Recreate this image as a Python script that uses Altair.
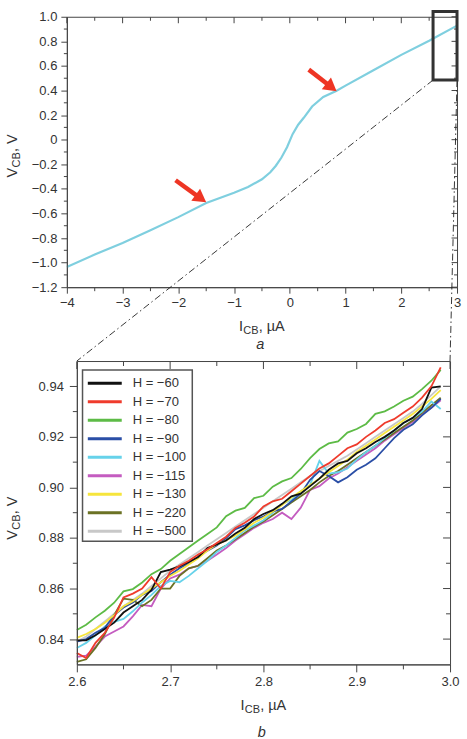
import math

import altair as alt
import pandas as pd

FONT = "Liberation Sans"
INK = "#333333"
AXIS_INK = "#444444"
ARROW_RED = "#ee3524"

# ---------------- panel a: full current sweep ----------------
sweep_i = [-4.0, -3.5, -3.0, -2.5, -2.0, -1.5, -1.0, -0.75, -0.5, -0.35, -0.25, -0.15,
           -0.05, 0.05, 0.15, 0.25, 0.4, 0.6, 0.84, 1.0, 1.5, 2.0, 2.5, 3.0]
sweep_v = [-1.035, -0.935, -0.840, -0.737, -0.630, -0.515, -0.432, -0.385, -0.322, -0.265,
           -0.212, -0.145, -0.062, 0.045, 0.122, 0.178, 0.270, 0.347, 0.398, 0.440,
           0.565, 0.690, 0.805, 0.928]

# magnified window and the two kinks marked by arrows
window_i = [2.57, 3.0]
window_v = [0.485, 1.042]
arrow_tail_i = [-2.05, 0.34]
arrow_tail_v = [-0.33, 0.57]
arrow_tip_i = [-1.50, 0.84]
arrow_tip_v = [-0.51, 0.394]

top_x_major = [-4, -3, -2, -1, 0, 1, 2, 3]
top_x_minor = [-3.5, -2.5, -1.5, -0.5, 0.5, 1.5, 2.5]
top_y_major = [-1.2, -1.0, -0.8, -0.6, -0.4, -0.2, 0.0, 0.2, 0.4, 0.6, 0.8, 1.0]
top_y_minor = [-1.1, -0.9, -0.7, -0.5, -0.3, -0.1, 0.1, 0.3, 0.5, 0.7, 0.9]

# ---------------- panel b: magnified window, field series ----------------
zoom_i = [2.60, 2.61, 2.62, 2.63, 2.64, 2.65, 2.66, 2.67, 2.68, 2.69,
          2.70, 2.71, 2.72, 2.73, 2.74, 2.75, 2.76, 2.77, 2.78, 2.79,
          2.80, 2.81, 2.82, 2.83, 2.84, 2.85, 2.86, 2.87, 2.88, 2.89,
          2.90, 2.91, 2.92, 2.93, 2.94, 2.95, 2.96, 2.97, 2.98, 2.99]

series_names = ["H = \u221260", "H = \u221270", "H = \u221280", "H = \u221290", "H = \u2212100",
                "H = \u2212115", "H = \u2212130", "H = \u2212220", "H = \u2212500"]
series_colors = ["#111111", "#ef3b2c", "#5dbb46", "#2a4ea6", "#66d2ea",
                 "#c45cc0", "#f6e53c", "#6b7224", "#c8c8c8"]

v_h60 = [0.8395, 0.8395, 0.8415, 0.8440, 0.8465, 0.8505, 0.8530, 0.8555, 0.8595, 0.8665,
         0.8675, 0.8688, 0.8705, 0.8725, 0.8760, 0.8775, 0.8790, 0.8818, 0.8840, 0.8875,
         0.8895, 0.8910, 0.8935, 0.8965, 0.8975, 0.9005, 0.9035, 0.9070, 0.9095, 0.9105,
         0.9135, 0.9155, 0.9180, 0.9200, 0.9225, 0.9255, 0.9275, 0.9310, 0.9395, 0.9400]
v_h70 = [0.8345, 0.8325, 0.8385, 0.8425, 0.8485, 0.8565, 0.8580, 0.8600, 0.8645, 0.8600,
         0.8665, 0.8690, 0.8710, 0.8735, 0.8755, 0.8780, 0.8805, 0.8840, 0.8860, 0.8885,
         0.8925, 0.8945, 0.8955, 0.8985, 0.9015, 0.9045, 0.9075, 0.9095, 0.9125, 0.9155,
         0.9170, 0.9200, 0.9225, 0.9255, 0.9270, 0.9295, 0.9320, 0.9355, 0.9400, 0.9475]
v_h80 = [0.8436, 0.8457, 0.8486, 0.8512, 0.8544, 0.8589, 0.8598, 0.8624, 0.8657, 0.8677,
         0.8710, 0.8737, 0.8763, 0.8790, 0.8816, 0.8842, 0.8886, 0.8908, 0.8919, 0.8958,
         0.8967, 0.9003, 0.9024, 0.9037, 0.9073, 0.9116, 0.9152, 0.9174, 0.9182, 0.9217,
         0.9231, 0.9251, 0.9291, 0.9301, 0.9320, 0.9343, 0.9359, 0.9389, 0.9422, 0.9465]
v_h90 = [0.8390, 0.8400, 0.8425, 0.8445, 0.8495, 0.8525, 0.8545, 0.8575, 0.8590, 0.8625,
         0.8655, 0.8680, 0.8700, 0.8725, 0.8750, 0.8770, 0.8800, 0.8835, 0.8850, 0.8870,
         0.8885, 0.8905, 0.8915, 0.8945, 0.8975, 0.9030, 0.9065, 0.9045, 0.9020, 0.9040,
         0.9070, 0.9090, 0.9115, 0.9155, 0.9195, 0.9228, 0.9250, 0.9285, 0.9315, 0.9350]
v_h100 = [0.8365, 0.8385, 0.8415, 0.8450, 0.8468, 0.8480, 0.8510, 0.8545, 0.8575, 0.8610,
          0.8630, 0.8625, 0.8650, 0.8680, 0.8710, 0.8745, 0.8770, 0.8800, 0.8830, 0.8850,
          0.8870, 0.8900, 0.8935, 0.8950, 0.8985, 0.9010, 0.9105, 0.9055, 0.9060, 0.9075,
          0.9110, 0.9140, 0.9165, 0.9195, 0.9225, 0.9255, 0.9275, 0.9300, 0.9340, 0.9310]
v_h115 = [0.8330, 0.8335, 0.8370, 0.8410, 0.8430, 0.8450, 0.8490, 0.8535, 0.8530, 0.8600,
          0.8640, 0.8655, 0.8680, 0.8690, 0.8710, 0.8735, 0.8760, 0.8790, 0.8815, 0.8840,
          0.8860, 0.8875, 0.8900, 0.8875, 0.8920, 0.8990, 0.9005, 0.9035, 0.9055, 0.9080,
          0.9105, 0.9130, 0.9155, 0.9185, 0.9210, 0.9235, 0.9260, 0.9290, 0.9315, 0.9345]
v_h130 = [0.8405, 0.8420, 0.8440, 0.8465, 0.8495, 0.8530, 0.8550, 0.8575, 0.8600, 0.8625,
          0.8650, 0.8670, 0.8695, 0.8720, 0.8750, 0.8775, 0.8790, 0.8810, 0.8835, 0.8860,
          0.8880, 0.8905, 0.8930, 0.8960, 0.8985, 0.9010, 0.9035, 0.9060, 0.9085, 0.9110,
          0.9140, 0.9165, 0.9190, 0.9215, 0.9240, 0.9265, 0.9290, 0.9320, 0.9350, 0.9385]
v_h220 = [0.8310, 0.8320, 0.8365, 0.8420, 0.8495, 0.8560, 0.8555, 0.8530, 0.8555, 0.8600,
          0.8600, 0.8650, 0.8680, 0.8690, 0.8720, 0.8750, 0.8770, 0.8795, 0.8820, 0.8845,
          0.8865, 0.8890, 0.8915, 0.8940, 0.8965, 0.8990, 0.9020, 0.9045, 0.9065, 0.9090,
          0.9115, 0.9140, 0.9165, 0.9190, 0.9215, 0.9240, 0.9265, 0.9295, 0.9325, 0.9355]
v_h500 = [0.8390, 0.8410, 0.8440, 0.8470, 0.8500, 0.8530, 0.8555, 0.8580, 0.8610, 0.8640,
          0.8670, 0.8695, 0.8720, 0.8745, 0.8770, 0.8795, 0.8820, 0.8845, 0.8870, 0.8895,
          0.8920, 0.8945, 0.8970, 0.8995, 0.9020, 0.9045, 0.9065, 0.9085, 0.9105, 0.9125,
          0.9150, 0.9175, 0.9200, 0.9225, 0.9250, 0.9275, 0.9300, 0.9330, 0.9365, 0.9400]
series_values = [v_h60, v_h70, v_h80, v_h90, v_h100, v_h115, v_h130, v_h220, v_h500]
# drawing order, bottom to top
draw_order = [8, 5, 7, 4, 3, 6, 2, 0, 1]

bot_x_major = [2.6, 2.7, 2.8, 2.9, 3.0]
bot_x_minor = [2.65, 2.75, 2.85, 2.95]
bot_y_major = [0.84, 0.86, 0.88, 0.90, 0.92, 0.94]
bot_y_minor = [0.85, 0.87, 0.89, 0.91, 0.93]

# ---------------- layout ----------------
TOP_W, TOP_H = 391, 271
BOT_W, BOT_H = 374, 304
GAP = 74      # vertical distance between the two plot frames
SHIFT = 10    # horizontal indent of panel b relative to panel a

TOP_I = [-4.0, 3.0]
TOP_V = [-1.2, 1.0]
BOT_I = [2.6, 3.0]
BOT_V = [0.83, 0.95]

one = pd.DataFrame({"n": [0]})


def text_piece(text, x, y, size, angle=0, italic=False, align="left"):
    return alt.Chart(one).mark_text(
        text=text, font=FONT, fontSize=size, align=align, baseline="alphabetic",
        color=INK, angle=angle, fontStyle="italic" if italic else "normal",
    ).encode(x=alt.value(x), y=alt.value(y))


def main_axis(orient, values, tick, pad, **kw):
    return alt.Axis(orient=orient, values=values, tickSize=tick, labelPadding=pad,
                    labelFont=FONT, labelFontSize=13, labelColor=INK, tickColor=AXIS_INK,
                    domainColor=AXIS_INK, labelFlush=False, labelOverlap=False,
                    labelBound=False, grid=False, title=None, **kw)


def frame_marks(xs, ys, xaxis, yaxis, w, h, xmin, xmaj, ymin, ymaj, t_major, t_minor):
    """Plot frame, minor ticks on the left/bottom and inward ticks on the top/right."""
    box = alt.Chart(one).mark_rect(fillOpacity=0, stroke=AXIS_INK, strokeWidth=1).encode(
        x=alt.value(0.5), x2=alt.value(w + 0.5), y=alt.value(0.5), y2=alt.value(h + 0.5))
    layers = [box]
    rule = dict(color=AXIS_INK, strokeWidth=1)
    for vals, length, minor in ((xmaj, t_major, False), (xmin, t_minor, True)):
        df = pd.DataFrame({"t": vals})
        xenc = alt.X("t:Q", scale=xs, axis=xaxis)
        layers.append(alt.Chart(df).mark_rule(**rule).encode(
            x=xenc, y=alt.value(0.5), y2=alt.value(0.5 + length)))
        if minor:
            layers.append(alt.Chart(df).mark_rule(**rule).encode(
                x=xenc, y=alt.value(h + 0.5), y2=alt.value(h + 0.5 + length)))
    for vals, length, minor in ((ymaj, t_major, False), (ymin, t_minor, True)):
        df = pd.DataFrame({"t": vals})
        yenc = alt.Y("t:Q", scale=ys, axis=yaxis)
        layers.append(alt.Chart(df).mark_rule(**rule).encode(
            y=yenc, x=alt.value(w + 0.5), x2=alt.value(w + 0.5 - length)))
        if minor:
            layers.append(alt.Chart(df).mark_rule(**rule).encode(
                y=yenc, x=alt.value(0.5), x2=alt.value(0.5 - length)))
    return layers


# ---------------- panel a ----------------
xs_top = alt.Scale(domain=TOP_I, nice=False, zero=False)
ys_top = alt.Scale(domain=TOP_V, nice=False, zero=False)
xaxis_top = main_axis("bottom", top_x_major, 6, 3, labelExpr="format(datum.value, 'd')")
yaxis_top = main_axis("left", top_y_major, 6, 4,
                      labelExpr="datum.value == 0 ? '0' : format(datum.value, '.1f')")
i_per_px = (TOP_I[1] - TOP_I[0]) / TOP_W
v_per_px = (TOP_V[1] - TOP_V[0]) / TOP_H

sweep = pd.DataFrame({"i": sweep_i, "v": sweep_v})
curve = alt.Chart(sweep).mark_line(color="#7fcfdf", strokeWidth=2.2).encode(
    x=alt.X("i:Q", scale=xs_top, axis=xaxis_top),
    y=alt.Y("v:Q", scale=ys_top, axis=yaxis_top),
)

window = pd.DataFrame({"i": [window_i[0]], "i2": [window_i[1]],
                       "v": [window_v[0]], "v2": [window_v[1]]})
window_box = alt.Chart(window).mark_rect(fillOpacity=0, stroke="#333333", strokeWidth=3).encode(
    x=alt.X("i:Q", scale=xs_top, axis=xaxis_top), x2="i2:Q",
    y=alt.Y("v:Q", scale=ys_top, axis=yaxis_top), y2="v2:Q")

# dash-dot leaders from the window's lower corners to the top corners of panel b
leader_v = TOP_V[1] - (TOP_H + GAP) * v_per_px
leader_i = [TOP_I[0] + SHIFT * i_per_px, TOP_I[0] + (SHIFT + BOT_W) * i_per_px]
leaders = pd.DataFrame({"i": window_i, "v": [window_v[0], window_v[0]],
                        "i2": leader_i, "v2": [leader_v, leader_v]})
leader_lines = alt.Chart(leaders).mark_rule(
    color="#222222", strokeWidth=0.9, strokeDash=[7, 3, 1.5, 3]).encode(
    x=alt.X("i:Q", scale=xs_top, axis=xaxis_top), x2="i2:Q",
    y=alt.Y("v:Q", scale=ys_top, axis=yaxis_top), y2="v2:Q")

HEAD = 13.0
arrow_rows = []
for ti, tv, hi, hv in zip(arrow_tail_i, arrow_tail_v, arrow_tip_i, arrow_tip_v):
    dx = (hi - ti) / i_per_px
    dy = -(hv - tv) / v_per_px
    length = math.hypot(dx, dy)
    ux, uy = dx / length, dy / length
    arrow_rows.append({
        "ti": ti, "tv": tv,
        "ci": hi - ux * HEAD / 2 * i_per_px,
        "cv": hv + uy * HEAD / 2 * v_per_px,
        "ang": math.degrees(math.atan2(dy, dx)) % 360,
    })
arrows = pd.DataFrame(arrow_rows)
arrow_shafts = alt.Chart(arrows).mark_rule(color=ARROW_RED, strokeWidth=4.5).encode(
    x=alt.X("ti:Q", scale=xs_top, axis=xaxis_top), x2="ci:Q",
    y=alt.Y("tv:Q", scale=ys_top, axis=yaxis_top), y2="cv:Q")
arrow_heads = alt.Chart(arrows).mark_point(
    shape="triangle-right", filled=True, size=225, color=ARROW_RED, opacity=1).encode(
    x=alt.X("ci:Q", scale=xs_top, axis=xaxis_top),
    y=alt.Y("cv:Q", scale=ys_top, axis=yaxis_top),
    angle=alt.Angle("ang:Q", scale=None))

top_titles = [
    text_piece("I", 172.5, 314.7, 14.5),
    text_piece("CB", 176.8, 317.7, 11),
    text_piece(", \u00b5A", 192.3, 314.7, 14.5),
    text_piece("a", 193.7, 333, 14.5, italic=True, align="center"),
    text_piece("V", -50, 161, 14.5, angle=270),
    text_piece("CB", -47, 151, 11, angle=270),
    text_piece(", V", -50, 135.5, 14.5, angle=270),
]

top = alt.layer(
    curve,
    *frame_marks(xs_top, ys_top, xaxis_top, yaxis_top, TOP_W, TOP_H, top_x_minor, top_x_major,
                 top_y_minor, top_y_major, 6, 3.5),
    leader_lines, window_box, arrow_shafts, arrow_heads, *top_titles,
).properties(width=TOP_W, height=TOP_H)

# ---------------- panel b ----------------
xs_bot = alt.Scale(domain=BOT_I, nice=False, zero=False)
ys_bot = alt.Scale(domain=BOT_V, nice=False, zero=False)
xaxis_bot = main_axis("bottom", bot_x_major, 7.5, 3.5, format=".1f")
yaxis_bot = main_axis("left", bot_y_major, 7.5, 6, format=".2f")
color_scale = alt.Scale(domain=series_names, range=series_colors)

rows = []
for rank, k in enumerate(draw_order):
    for i, v in zip(zoom_i, series_values[k]):
        rows.append({"series": series_names[k], "i": i, "v": v, "rank": rank})
zoom_df = pd.DataFrame(rows)

zoom_lines = alt.Chart(zoom_df).mark_line(strokeWidth=1.8).encode(
    x=alt.X("i:Q", scale=xs_bot, axis=xaxis_bot),
    y=alt.Y("v:Q", scale=ys_bot, axis=yaxis_bot),
    color=alt.Color("series:N", scale=color_scale, legend=None),
    detail="rank:O",
)

legend_df = pd.DataFrame({"series": series_names, "row": list(range(len(series_names)))})
legend_box = alt.Chart(one).mark_rect(fill="white", stroke="#555555", strokeWidth=1.5).encode(
    x=alt.value(5.7), x2=alt.value(115.7), y=alt.value(9), y2=alt.value(180.7))
legend_keys = alt.Chart(legend_df).transform_calculate(
    py="22.3 + datum.row * 18.55").mark_rule(strokeWidth=3).encode(
    x=alt.value(11), x2=alt.value(45), y=alt.Y("py:Q", scale=None),
    color=alt.Color("series:N", scale=color_scale, legend=None))
legend_text = alt.Chart(legend_df).transform_calculate(
    py="22.3 + datum.row * 18.55").mark_text(
    align="left", baseline="middle", font=FONT, fontSize=13, color=INK).encode(
    x=alt.value(56), y=alt.Y("py:Q", scale=None), text="series:N")

bot_titles = [
    text_piece("I", 164, 349.7, 14.5),
    text_piece("CB", 168.3, 352.7, 11),
    text_piece(", \u00b5A", 183.8, 349.7, 14.5),
    text_piece("b", 185.3, 377, 14.5, italic=True, align="center"),
    text_piece("V", -60, 179, 14.5, angle=270),
    text_piece("CB", -57, 169, 11, angle=270),
    text_piece(", V", -60, 153.5, 14.5, angle=270),
]

bottom = alt.layer(
    zoom_lines,
    *frame_marks(xs_bot, ys_bot, xaxis_bot, yaxis_bot, BOT_W, BOT_H, bot_x_minor, bot_x_major,
                 bot_y_minor, bot_y_major, 7.5, 4.5),
    legend_box, legend_keys, legend_text, *bot_titles,
).properties(width=BOT_W, height=BOT_H)

indent = alt.Chart(one).mark_point(opacity=0).encode(
    x=alt.X("n:Q", axis=None), y=alt.Y("n:Q", axis=None)).properties(width=SHIFT, height=10)

chart = alt.vconcat(
    top,
    alt.hconcat(indent, bottom, spacing=0, bounds="flush"),
    spacing=GAP, bounds="flush",
).properties(
    padding={"left": 5, "top": 9, "right": 5, "bottom": 5},
    background="white",
).configure_view(stroke=None)

chart.save("out.html", embed_options={"renderer": "svg", "actions": False})
